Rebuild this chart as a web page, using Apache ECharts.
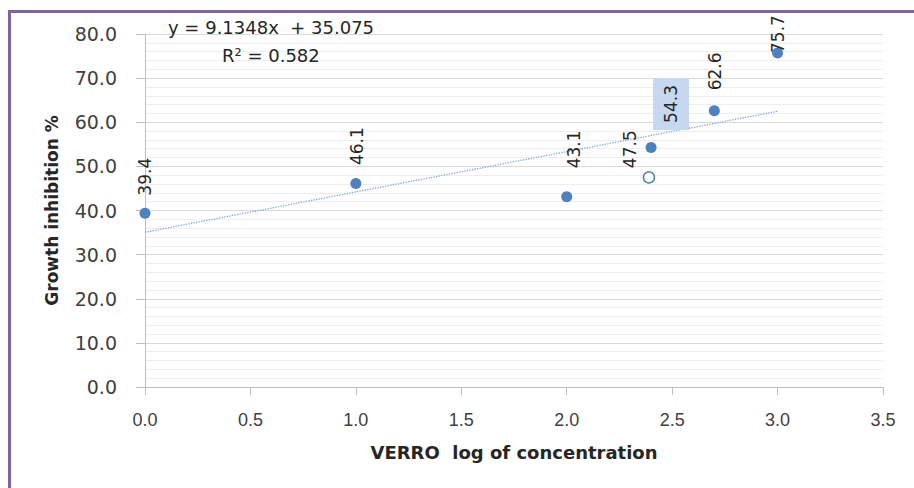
<!DOCTYPE html>
<html>
<head>
<meta charset="utf-8">
<script src="https://cdn.jsdelivr.net/npm/echarts@6/dist/echarts.min.js"></script>
<style>
html,body{margin:0;padding:0;background:#fff;}
#chart{width:914px;height:488px;}
</style>
</head>
<body>
<div id="chart"></div>
<script>
// ---- data ----
const logConc = [0.0, 1.0, 2.0, 2.4, 2.7, 3.0];
const inhibition = [39.4, 46.1, 43.1, 54.3, 62.6, 75.7];
const hollowX = [2.39];
const hollowY = [47.5];
const trendSlope = 9.1348;
const trendIntercept = 35.075;
const trendRange = [0.0, 3.0];
const rSquared = 0.582;
const xTicks = ['0.0','0.5','1.0','1.5','2.0','2.5','3.0','3.5'];
const yTicks = ['0.0','10.0','20.0','30.0','40.0','50.0','60.0','70.0','80.0'];
const xTitle = 'VERRO  log of concentration';
const yTitle = 'Growth inhibition %';

// ---- layout: label nudges [right, down] in screen px ----
const labelNudge = [[0,-12],[1,-13],[7,-23],[20,-12],[1,-15],[0,5.5]];
const hollowNudge = [-19,-3];
const highlightIndex = 3;

const blue = '#4f81bd';
const labelFont = 'DejaVu Sans';
// rotated (90deg) labels apply offset in their own frame
const rotOffset = s => [-s[1], s[0]];

const filledData = logConc.map((x, i) => {
  const item = {
    value: [x, inhibition[i]],
    label: { offset: rotOffset(labelNudge[i]) }
  };
  if (i === highlightIndex) {
    item.label.backgroundColor = '#c6d9f1';
    item.label.padding = [10, 7, 9, 7];
  }
  return item;
});
const hollowData = hollowX.map((x, i) => ({ value: [x, hollowY[i]] }));
const trendData = trendRange.map(x => [x, trendSlope * x + trendIntercept]);

const chart = echarts.init(document.getElementById('chart'), null, { renderer: 'svg' });
chart.setOption({
  animation: false,
  backgroundColor: '#fff',
  grid: { left: 145, right: 31, top: 34, bottom: 101, containLabel: false },
  xAxis: {
    type: 'value', min: 0, max: 3.5, interval: 0.5,
    name: xTitle, nameLocation: 'middle', nameGap: 56,
    nameTextStyle: { fontFamily: 'DejaVu Sans', fontWeight: 'bold', fontSize: 18, color: '#262626' },
    axisLine: { show: true, lineStyle: { color: '#bfbfbf', width: 1 } },
    axisTick: { show: true, inside: false, length: 8, lineStyle: { color: '#bfbfbf' } },
    axisLabel: {
      margin: 24, fontFamily: 'Liberation Sans', fontSize: 18, color: '#404040',
      formatter: v => xTicks[Math.round(v / 0.5)]
    },
    splitLine: { show: false }
  },
  yAxis: {
    type: 'value', min: 0, max: 80, interval: 10,
    name: yTitle, nameLocation: 'middle', nameGap: 85,
    nameTextStyle: { fontFamily: 'DejaVu Sans', fontWeight: 'bold', fontSize: 17, color: '#262626' },
    axisLine: { show: true, lineStyle: { color: '#bfbfbf', width: 1 } },
    axisTick: { show: true, inside: false, length: 9, lineStyle: { color: '#bfbfbf' } },
    axisLabel: {
      margin: 28, fontFamily: 'DejaVu Sans', fontSize: 19, color: '#404040',
      formatter: v => yTicks[Math.round(v / 10)]
    },
    splitLine: { show: true, lineStyle: { color: '#d9d9d9', width: 1 } },
    minorTick: { show: false, splitNumber: 5 },
    minorSplitLine: { show: true, lineStyle: { color: '#eeeeee', width: 1 } }
  },
  graphic: [
    { type: 'line', shape: { x1: 9.5, y1: 10, x2: 9.5, y2: 488 }, style: { stroke: '#8064a2', lineWidth: 3 }, z: 100 },
    { type: 'line', shape: { x1: 8, y1: 11.5, x2: 914, y2: 11.5 }, style: { stroke: '#8064a2', lineWidth: 3 }, z: 100 },
    { type: 'text', left: 168, top: 18, z: 100,
      style: { text: 'y = ' + trendSlope + 'x  + ' + trendIntercept.toFixed(3), fontFamily: labelFont, fontSize: 18, fill: '#262626' } },
    { type: 'text', left: 222, top: 46, z: 100,
      style: { text: 'R² = ' + rSquared, fontFamily: labelFont, fontSize: 18, fill: '#262626' } }
  ],
  series: [
    {
      type: 'line', data: trendData, showSymbol: false, symbol: 'none', silent: true,
      lineStyle: { color: '#7ea6d8', width: 1.3, type: 'dotted' }, z: 2
    },
    {
      type: 'scatter', data: filledData, symbol: 'circle', symbolSize: 11,
      itemStyle: { color: blue, opacity: 1 },
      label: {
        show: true, position: 'top', distance: 0, rotate: 90,
        align: 'left', verticalAlign: 'middle',
        fontFamily: labelFont, fontSize: 17, color: '#262626',
        formatter: p => p.value[1].toFixed(1)
      },
      z: 3
    },
    {
      type: 'scatter', data: hollowData, symbol: 'circle', symbolSize: 11,
      itemStyle: { color: '#fff', borderColor: blue, borderWidth: 1.5, opacity: 1 },
      label: {
        show: true, position: 'top', distance: 0, rotate: 90, offset: rotOffset(hollowNudge),
        align: 'left', verticalAlign: 'middle',
        fontFamily: labelFont, fontSize: 17, color: '#262626',
        formatter: p => p.value[1].toFixed(1)
      },
      z: 3
    }
  ]
});
</script>
</body>
</html>
